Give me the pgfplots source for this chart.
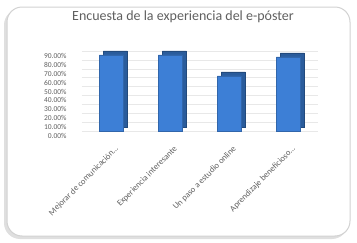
\documentclass[border=0pt]{standalone}
\usepackage{fontspec}
\setmainfont{Carlito}
\usepackage{pgfplots}
\pgfplotsset{compat=1.18}
\definecolor{barfront}{HTML}{3D7FD6}
\definecolor{barside}{HTML}{2A5C9C}
\definecolor{txtgray}{HTML}{606060}
\begin{document}
\begin{tikzpicture}[x=1pt,y=1pt]
\path[use as bounding box] (0,0) rectangle (357,242);
% card frame with shadow
\fill[gray!25, rounded corners=16pt] (4,3) rectangle (348,233);
\fill[white, rounded corners=15pt] (7,6) rectangle (350,235);
\draw[gray!35, line width=1pt, rounded corners=15pt] (7,6) rectangle (350,235);
\node[font=\fontsize{14}{16}\selectfont, text=txtgray] at (183,225) {Encuesta de la experiencia del e-póster};
\begin{axis}[
  at={(82pt,111pt)}, anchor=south west,
  width=236pt, height=80pt, scale only axis,
  xmin=-0.5, xmax=3.5, ymin=0, ymax=90,
  xtick={0,1,2,3},
  xticklabels={{Mejorar de comunicación\ldots},{Experiencia interesante},{Un paso a estudio online},{Aprendizaje beneficioso\ldots}},
  xticklabel style={rotate=45, anchor=north east, font=\fontsize{8.5}{9}\selectfont, text=txtgray, yshift=-9pt, xshift=-5pt, inner sep=0pt},
  ytick={0,10,20,30,40,50,60,70,80,90},
  yticklabel={\pgfmathprintnumber[fixed,fixed zerofill,precision=2]{\tick}\%},
  yticklabel style={font=\fontsize{7.5}{8}\selectfont, text=txtgray, yshift=-5pt, xshift=-12pt},
  /pgf/number format/assume math mode=true,
  ymajorgrids, grid style={gray!18},
  axis line style={draw=none}, tick style={draw=none},
  ybar, bar width=24pt,
  clip=false,
]
\addplot[fill=barside, draw=barside!80!black, bar shift=4pt, yshift=4pt] coordinates {(0,85.7) (1,85.7) (2,61.9) (3,83.3)};
\addplot[fill=barfront, draw=barfront!80!black, bar shift=0pt] coordinates {(0,85.7) (1,85.7) (2,61.9) (3,83.3)};
\end{axis}
\end{tikzpicture}
\end{document}
